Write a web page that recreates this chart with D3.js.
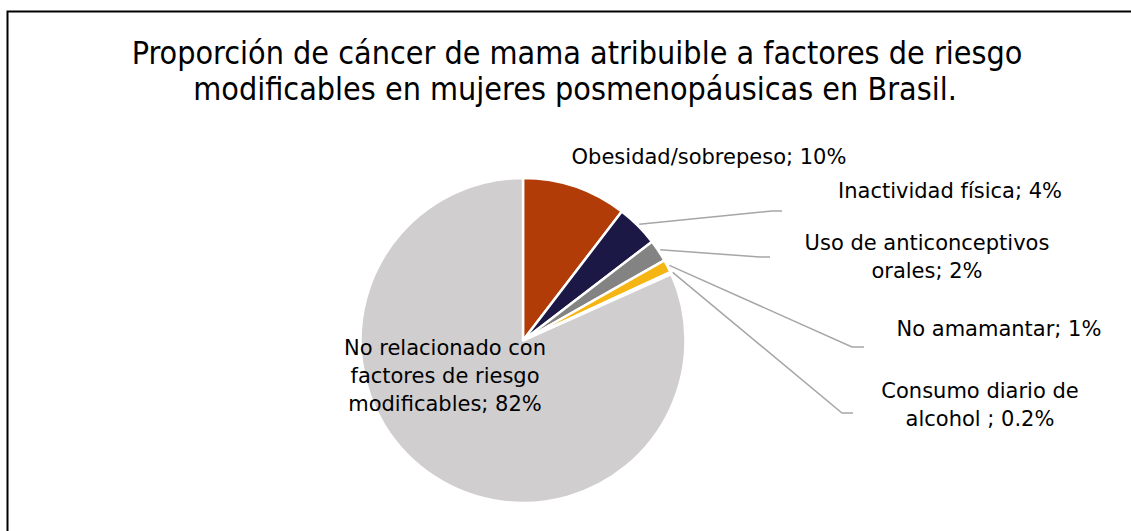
<!DOCTYPE html>
<html>
<head>
<meta charset="utf-8">
<script src="https://cdn.jsdelivr.net/npm/d3@7"></script>
<style>
  body { margin: 0; background: #fff; }
  text { font-family: "DejaVu Sans", Verdana, sans-serif; fill: #000; }
</style>
</head>
<body>
<div id="chart"></div>
<script>
// data
var categories = ["Obesidad/sobrepeso", "Inactividad física", "Uso de anticonceptivos orales",
                  "No amamantar", "Consumo diario de alcohol ", "No relacionado con factores de riesgo modificables"];
var values = [10.4, 4.2, 2.2, 1.3, 0.2, 81.7];
var valueLabels = ["10%", "4%", "2%", "1%", "0.2%", "82%"];
var labelLines = [
  ["Obesidad/sobrepeso; 10%"],
  ["Inactividad física; 4%"],
  ["Uso de anticonceptivos", "orales; 2%"],
  ["No amamantar; 1%"],
  ["Consumo diario de", "alcohol ; 0.2%"],
  ["No relacionado con", "factores de riesgo", "modificables; 82%"]
];
var colors = ["#B23C07", "#1B1846", "#838383", "#F5B512", "#A9A9A9", "#D0CECE"];

// label layout (x centre, first baseline) and leader elbow points
var labelPos = [
  {x: 709, y: 164, leader: null},
  {x: 950, y: 198, leader: [[772, 211], [782, 211]]},
  {x: 927, y: 250, leader: [[760, 257], [770, 257]]},
  {x: 999, y: 336, leader: [[852, 347], [864, 347]]},
  {x: 980, y: 398, leader: [[842, 413], [853, 413]]},
  {x: 445, y: 355, leader: null}
];

var width = 1131, height = 531;
var cx = 523, cy = 340.5, radius = 162.5;

var svg = d3.select("#chart")
  .append("svg")
    .attr("width", width)
    .attr("height", height);

// frame
svg.append("rect")
  .attr("x", 7.5).attr("y", 11.5)
  .attr("width", width + 20).attr("height", height + 20)
  .attr("fill", "none")
  .attr("stroke", "#000")
  .attr("stroke-width", 2);

// title
var title = svg.append("text")
  .attr("text-anchor", "middle")
  .style("font-family", "'DejaVu Sans Condensed', 'DejaVu Sans', sans-serif")
  .style("font-size", "32px");
title.append("tspan").attr("x", 577).attr("y", 64)
  .text("Proporción de cáncer de mama atribuible a factores de riesgo");
title.append("tspan").attr("x", 575).attr("y", 100)
  .text("modificables en mujeres posmenopáusicas en Brasil.");

var data = categories.map(function (c, i) {
  return {cat: c, value: values[i], label: valueLabels[i], lines: labelLines[i], color: colors[i], pos: labelPos[i]};
});

var pie = d3.pie()
  .sort(null)
  .value(function (d) { return d.value; });

var arc = d3.arc()
  .innerRadius(0)
  .outerRadius(radius);

var arcs = pie(data);

var g = svg.append("g")
  .attr("transform", "translate(" + cx + "," + cy + ")");

g.selectAll("path")
  .data(arcs)
  .enter()
  .append("path")
    .attr("d", arc)
    .attr("fill", function (d) { return d.data.color; })
    .attr("stroke", "#fff")
    .attr("stroke-width", 2.5)
    .attr("stroke-linejoin", "round");

// leader lines
var line = d3.line();
arcs.forEach(function (d) {
  if (!d.data.pos.leader) return;
  var mid = (d.startAngle + d.endAngle) / 2;
  var start = [cx + Math.sin(mid) * (radius + 2), cy - Math.cos(mid) * (radius + 2)];
  svg.append("path")
    .attr("d", line([start].concat(d.data.pos.leader)))
    .attr("fill", "none")
    .attr("stroke", "#A6A6A6")
    .attr("stroke-width", 1.5);
});

// labels
arcs.forEach(function (d) {
  var t = svg.append("text")
    .attr("text-anchor", "middle")
    .style("font-size", "21px");
  d.data.lines.forEach(function (l, j) {
    t.append("tspan")
      .attr("x", d.data.pos.x)
      .attr("y", d.data.pos.y + j * 28)
      .text(l);
  });
});
</script>
</body>
</html>
